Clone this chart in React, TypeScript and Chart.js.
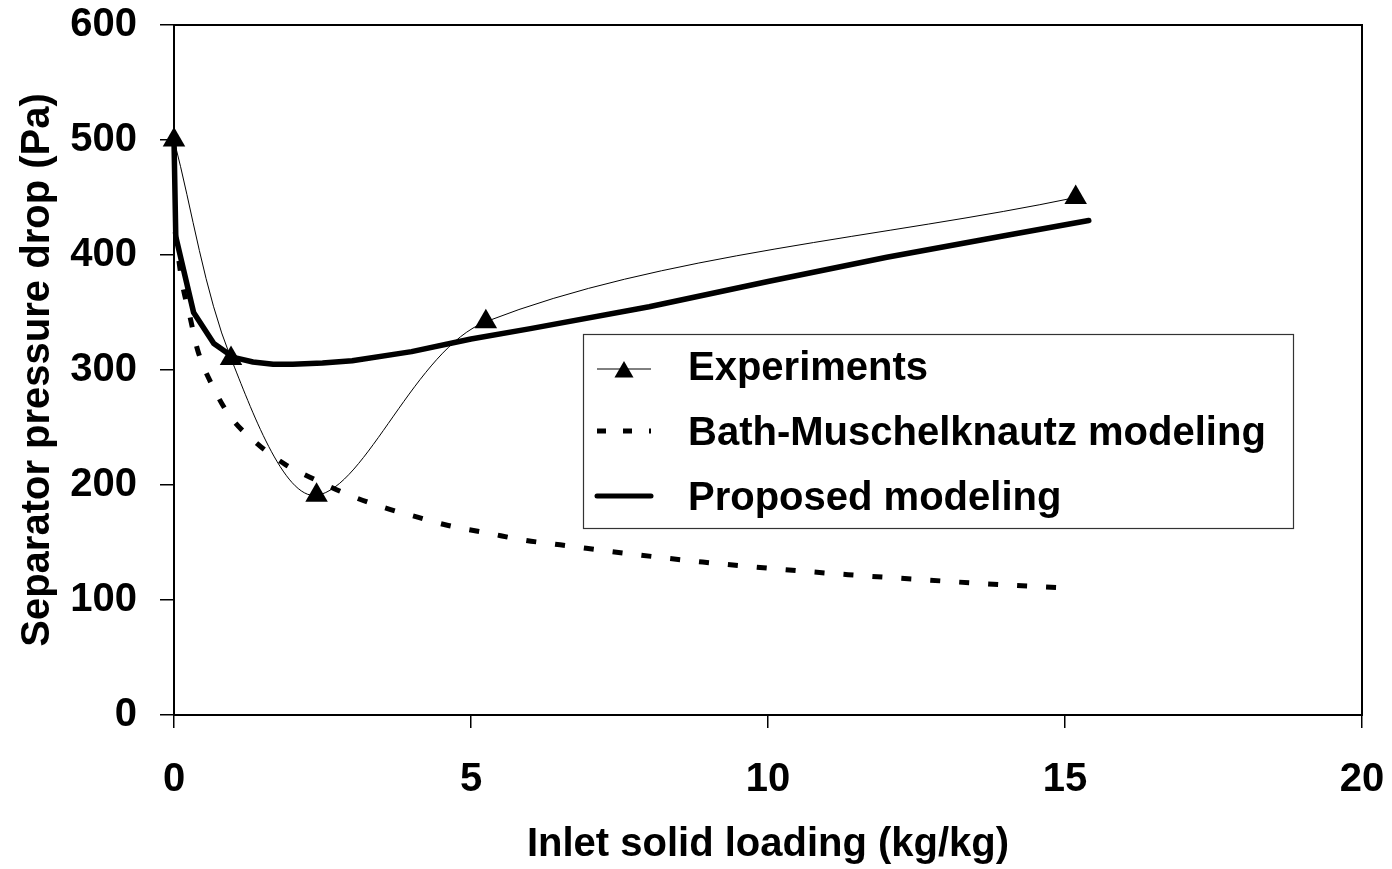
import React, { useEffect, useRef } from "react";
import { Chart, registerables } from "chart.js";

Chart.register(...registerables);

const FONT = '"Liberation Sans", Arial, Helvetica, sans-serif';

const xTicks = [0, 5, 10, 15, 20];
const yTicks = [0, 100, 200, 300, 400, 500, 600];

const expX = [0, 0.96, 2.4, 5.25, 15.18];
const expY = [500, 310, 191, 342, 450];

const bmX = [0.02, 0.13, 0.27, 0.4, 0.64, 0.94, 1.4, 1.87, 2.4, 2.96, 3.5, 4.1, 4.6, 5.3, 5.9, 6.5, 7.7, 8.9, 10.15, 11.35, 12.5, 13.7, 15.15];
const bmY = [420, 378, 346, 317, 287, 260, 236, 218, 204, 191, 181, 172, 165, 158, 152, 148, 140, 133, 127, 122, 118, 114, 110];

const propX = [0, 0.03, 0.33, 0.67, 1, 1.33, 1.67, 2, 2.5, 3, 4, 5, 6, 8, 10, 12, 14, 15.4];
const propY = [500, 416, 350, 323, 311, 307, 305, 305, 306, 308, 316, 327, 336, 355, 377, 398, 417, 430];

const legendLabels = ["Experiments", "Bath-Muschelknautz modeling", "Proposed modeling"];

const toPts = (xs: number[], ys: number[]) => xs.map((x, i) => ({ x, y: ys[i] }));

const frame = {
  id: "frame",
  beforeDatasetsDraw(chart: any) {
    const { ctx, chartArea: a } = chart;
    ctx.save();
    ctx.strokeStyle = "#000";
    ctx.lineWidth = 2;
    ctx.strokeRect(a.left, a.top, a.right - a.left, a.bottom - a.top);
    ctx.restore();
  },
};

const boxLegend = {
  id: "boxLegend",
  afterDraw(chart: any) {
    const { ctx } = chart;
    ctx.save();
    const bx = 583, by = 334, bw = 710, bh = 194;
    ctx.fillStyle = "#fff";
    ctx.fillRect(bx, by, bw, bh);
    ctx.strokeStyle = "#333";
    ctx.lineWidth = 1.2;
    ctx.strokeRect(bx + 0.5, by + 0.5, bw, bh);
    const x0 = 597, x1 = 651;
    ctx.strokeStyle = "#000";
    ctx.lineWidth = 1;
    ctx.beginPath();
    ctx.moveTo(x0, 369);
    ctx.lineTo(x1, 369);
    ctx.stroke();
    ctx.fillStyle = "#000";
    const r = 11, cx = 624, cy = 372;
    ctx.beginPath();
    ctx.moveTo(cx, cy - r);
    ctx.lineTo(cx + 0.866 * r, cy + 0.5 * r);
    ctx.lineTo(cx - 0.866 * r, cy + 0.5 * r);
    ctx.closePath();
    ctx.fill();
    ctx.lineWidth = 5;
    ctx.setLineDash([9, 17]);
    ctx.beginPath();
    ctx.moveTo(x0, 431);
    ctx.lineTo(x1, 431);
    ctx.stroke();
    ctx.setLineDash([]);
    ctx.lineWidth = 5;
    ctx.lineCap = "round";
    ctx.beginPath();
    ctx.moveTo(x0, 496);
    ctx.lineTo(x1, 496);
    ctx.stroke();
    ctx.font = `bold 40px ${FONT}`;
    ctx.textAlign = "left";
    ctx.textBaseline = "alphabetic";
    ctx.fillStyle = "#000";
    ctx.fillText(legendLabels[0], 688, 380);
    ctx.fillText(legendLabels[1], 688, 445);
    ctx.fillText(legendLabels[2], 688, 510);
    ctx.restore();
  },
};

export default function App() {
  const ref = useRef<HTMLCanvasElement | null>(null);
  useEffect(() => {
    if (!ref.current) return;
    const chart = new Chart(ref.current, {
      type: "line",
      data: {
        datasets: [
          {
            label: legendLabels[0],
            data: toPts(expX, expY),
            borderColor: "#000",
            backgroundColor: "#000",
            borderWidth: 1,
            tension: 0.32,
            pointStyle: "triangle",
            pointRadius: 13,
            pointBorderWidth: 0,
            pointBackgroundColor: "#000",
            clip: false,
          },
          {
            label: legendLabels[1],
            data: toPts(bmX, bmY),
            borderColor: "#000",
            borderWidth: 5,
            borderDash: [10, 19],
            borderCapStyle: "butt",
            cubicInterpolationMode: "monotone",
            pointRadius: 0,
            clip: false,
          },
          {
            label: legendLabels[2],
            data: toPts(propX, propY),
            borderColor: "#000",
            borderWidth: 5.5,
            borderCapStyle: "round",
            borderJoinStyle: "round",
            tension: 0,
            pointRadius: 0,
            clip: false,
          },
        ],
      },
      options: {
        responsive: false,
        animation: false,
        layout: { padding: { left: 0, top: 25, right: 30, bottom: 0 } },
        plugins: { legend: { display: false }, tooltip: { enabled: false } },
        scales: {
          x: {
            type: "linear",
            min: 0,
            max: 20,
            afterBuildTicks: (s: any) => { s.ticks = xTicks.map((v) => ({ value: v })); },
            afterFit: (s: any) => { s.height = 154; s.paddingLeft = 0; s.paddingRight = 0; },
            border: { display: false },
            grid: { drawOnChartArea: false, drawTicks: true, tickLength: 13, color: "#000", lineWidth: 1.5 },
            ticks: { color: "#000", font: { family: FONT, size: 40, weight: "bold", lineHeight: 1 }, padding: 32, maxRotation: 0 },
            title: { display: true, text: "Inlet solid loading (kg/kg)", color: "#000", font: { family: FONT, size: 40, weight: "bold", lineHeight: 1.2 }, padding: { top: 0, bottom: 0 } },
          },
          y: {
            type: "linear",
            min: 0,
            max: 600,
            afterBuildTicks: (s: any) => { s.ticks = yTicks.map((v) => ({ value: v })); },
            afterFit: (s: any) => { s.width = 174; s.paddingTop = 0; s.paddingBottom = 0; },
            border: { display: false },
            grid: { drawOnChartArea: false, drawTicks: true, tickLength: 14, color: "#000", lineWidth: 1.5 },
            ticks: { color: "#000", font: { family: FONT, size: 40, weight: "bold", lineHeight: 1 }, padding: 23 },
            title: { display: true, text: "Separator pressure drop (Pa)", color: "#000", font: { family: FONT, size: 40, weight: "bold", lineHeight: 1.2 }, padding: { top: 14, bottom: 0 } },
          },
        },
      },
      plugins: [frame, boxLegend],
    } as any);
    return () => chart.destroy();
  }, []);
  return (
    <div style={{ position: "absolute", left: 0, top: 0, width: 1392, height: 869, background: "#fff" }}>
      <canvas ref={ref} width={1392} height={869} style={{ display: "block" }} />
    </div>
  );
}
